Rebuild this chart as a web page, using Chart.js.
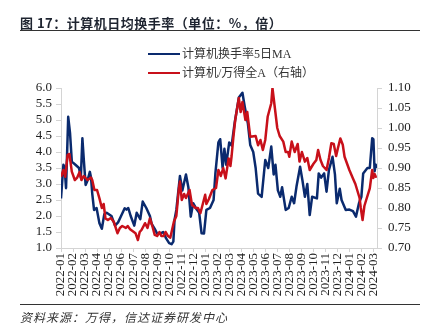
<!DOCTYPE html>
<html lang="zh-CN">

<head>
    <meta charset="UTF-8">
    <title>计算机日均换手率</title>
    <script src="https://cdn.jsdelivr.net/npm/chart.js"></script>
</head>
<style>
    body {
        margin: 0;
        background: #ffffff;
    }

    #wrap {
        position: relative;
        width: 434px;
        height: 329px;
        overflow: hidden;
        font-family: "Liberation Serif", "Noto Sans CJK SC", serif;
        color: #222;
    }

    #myChart {
        position: absolute;
        left: 0;
        top: 0;
    }

    .title {
        position: absolute;
        left: 20px;
        top: 13px;
        font-family: "Noto Sans CJK SC", sans-serif;
        font-weight: bold;
        font-size: 13px;
        letter-spacing: 0.5px;
        white-space: nowrap;
        color: #1e2430;
    }

    .rule {
        position: absolute;
        left: 20px;
        width: 400px;
        height: 1px;
        background: #333;
    }

    .legend-item {
        position: absolute;
        left: 148px;
        font-size: 12px;
        line-height: 14px;
        white-space: nowrap;
        color: #333;
    }

    .legend-item i {
        display: inline-block;
        width: 32px;
        height: 2px;
        vertical-align: middle;
        margin-right: 2px;
        margin-top: -2px;
    }

    .source {
        position: absolute;
        left: 20px;
        top: 308px;
        font-family: "Noto Sans CJK SC", sans-serif;
        font-style: italic;
        font-size: 12px;
        letter-spacing: 1px;
        color: #333;
    }
</style>

<body>
    <div id="wrap">
        <canvas id="myChart" width="434" height="329"></canvas>
        <div class="title">图 17：计算机日均换手率（单位：%，倍）</div>
        <div class="rule" style="top: 30px;"></div>
        <div class="legend-item" style="top: 47px;"><i style="background:#0a2a6e"></i>计算机换手率5日MA</div>
        <div class="legend-item" style="top: 66px;"><i style="background:#c8101a"></i>计算机/万得全A（右轴）</div>
        <div class="rule" style="top: 304px;"></div>
        <div class="source">资料来源：万得，信达证券研发中心</div>
    </div>
    <script>
        // 月份标签 (x 轴)
        const monthLabels = [
            '2022-01', '2022-02', '2022-03', '2022-04', '2022-05', '2022-06', '2022-07', '2022-08', '2022-09',
            '2022-10', '2022-11', '2022-12', '2023-01', '2023-02', '2023-03', '2023-04', '2023-05', '2023-06',
            '2023-07', '2023-08', '2023-09', '2023-10', '2023-11', '2023-12', '2024-01', '2024-02', '2024-03'
        ];

        // 计算机换手率5日MA (%)，x = 自 2022-01 起的月份位置
        const turnoverX = [
            0, 0.2, 0.3, 0.42, 0.6, 0.75, 0.9, 1.2, 1.5, 1.65, 1.78, 1.9, 2.05, 2.2, 2.4, 2.5, 2.6, 2.75, 2.96,
            3.2, 3.4, 3.6, 3.8, 4.2, 4.5, 4.75, 5.0, 5.3, 5.45, 5.6, 5.8, 6.1, 6.3, 6.45, 6.6, 6.8, 7.1, 7.4,
            7.55, 7.8, 8.0, 8.25, 8.5, 8.75, 9.0, 9.2, 9.35, 9.45, 9.6, 9.9, 10.1, 10.4, 10.6, 10.8, 11.0,
            11.3, 11.5, 11.7, 11.9, 12.1, 12.4, 12.7, 12.85, 13.1, 13.25, 13.45, 13.6, 13.75, 14.0, 14.2,
            14.45, 14.8, 15.1, 15.3, 15.55, 15.75, 16.0, 16.2, 16.4, 16.7, 17.0, 17.25, 17.5, 17.7, 17.85,
            18.05, 18.25, 18.4, 18.7, 18.95, 19.2, 19.4, 19.6, 19.9, 20.1, 20.3, 20.5, 20.7, 20.9, 21.3,
            21.45, 21.65, 21.9, 22.1, 22.3, 22.6, 22.8, 22.95, 23.2, 23.35, 23.7, 24.0, 24.3, 24.55, 24.8,
            25.0, 25.15, 25.5, 25.7, 25.9, 26.0, 26.1, 26.2, 26.25
        ];
        const turnoverY = [
            2.55, 3.6, 3.5, 2.87, 5.1, 4.6, 3.7, 3.6, 3.5, 3.2, 4.43, 3.75, 2.97, 3.1, 3.38, 3.2, 2.7, 2.19, 2.25,
            1.77, 1.6, 2.05, 2.1, 2.0, 1.7, 1.8, 2.0, 2.24, 2.2, 2.25, 2.0, 1.7, 2.1, 2.0, 1.9, 2.45, 2.25, 2.0,
            1.75, 1.6, 1.45, 1.45, 1.5, 1.3, 1.15, 1.12, 1.2, 1.88, 2.19, 3.25, 2.8, 3.3, 2.9, 1.98, 2.4,
            2.2, 2.1, 1.46, 1.45, 2.19, 2.25, 2.5, 3.33, 4.3, 4.4, 3.5, 4.1, 3.6, 4.3, 4.2,
            4.9, 5.7, 5.85, 5.4, 4.9, 4.22, 4.0, 3.5, 2.7, 2.6, 3.75, 3.5, 4.17, 3.3, 3.6,
            2.8, 2.6, 2.9, 2.19, 2.25, 2.6, 2.4, 2.92, 3.54, 3.1, 2.6, 3.0, 2.03, 2.6, 2.55,
            3.33, 3.2, 3.33, 2.76, 3.44, 3.85, 3.3, 2.4, 2.85, 2.5, 2.19, 2.2, 2.15, 1.98, 2.4,
            2.6, 3.33, 3.5, 3.5, 4.43, 4.4, 3.4, 3.6, 3.5
        ];

        // 计算机/万得全A (倍，右轴)
        const ratioX = [
            0, 0.2, 0.35, 0.55, 0.7, 0.9, 1.15, 1.35, 1.55, 1.7, 1.9, 2.2, 2.5, 2.6, 2.78, 3.0, 3.2, 3.4, 3.55,
            3.7, 3.9, 4.15, 4.4, 4.7, 4.9, 5.1, 5.4, 5.55, 5.75, 6.2, 6.4, 6.55, 6.7, 7.0, 7.2, 7.4, 7.6, 7.8,
            8.0, 8.2, 8.35, 8.55, 8.7, 8.9, 9.1, 9.4, 9.6, 9.8, 9.9, 10.05, 10.25, 10.4, 10.7, 10.9, 11.2,
            11.4, 11.6, 11.8, 12.0, 12.1, 12.3, 12.6, 12.9, 13.1, 13.3, 13.5, 13.7, 13.95, 14.1, 14.2, 14.35,
            14.5, 14.8, 14.95, 15.1, 15.35, 15.5, 15.75, 16.2, 16.4, 16.6, 16.8, 17.0, 17.2, 17.5, 17.6,
            17.8, 18.0, 18.2, 18.5, 18.7, 18.9, 19.0, 19.2, 19.45, 19.7, 19.85, 20.05, 20.3, 20.5, 20.7,
            21.0, 21.25, 21.4, 21.6, 21.8, 22.1, 22.3, 22.5, 22.7, 22.9, 23.05, 23.25, 23.45, 23.6, 24.0,
            24.3, 24.5, 24.7, 24.85, 24.95, 25.1, 25.25, 25.4, 25.7, 25.9, 26.0, 26.1, 26.2, 26.25
        ];
        const ratioY = [
            0.878, 0.895, 0.878, 0.933, 0.935, 0.891, 0.87, 0.876, 0.89, 0.87, 0.88, 0.87, 0.876, 0.87, 0.845,
            0.845, 0.824, 0.80, 0.81, 0.774, 0.77, 0.775, 0.765, 0.737, 0.75, 0.755, 0.75, 0.755, 0.747, 0.737,
            0.72, 0.74, 0.745, 0.762, 0.75, 0.774, 0.755, 0.733, 0.73, 0.74, 0.73, 0.73, 0.74, 0.73, 0.726,
            0.766, 0.78, 0.845, 0.866, 0.82, 0.835, 0.825, 0.845, 0.808, 0.8, 0.8, 0.787, 0.81, 0.833, 0.81,
            0.822, 0.845, 0.85, 0.895, 0.88, 0.9, 0.874, 0.924, 0.905, 0.93, 0.978, 1.02, 1.075, 1.04, 1.065,
            1.02, 1.04, 0.978, 0.98, 0.957, 0.97, 0.945, 0.97, 1.028, 1.062, 1.10, 1.05, 1.0, 0.98, 0.966,
            0.94, 0.94, 0.928, 0.966, 0.94, 0.96, 0.916, 0.94, 0.916, 0.925, 0.895, 0.91, 0.92, 0.945, 0.92,
            0.905, 0.895, 0.925, 0.962, 0.96, 0.93, 0.95, 0.974, 0.958, 0.928, 0.895, 0.874, 0.86, 0.84, 0.825,
            0.80, 0.77, 0.805, 0.82, 0.849, 0.895, 0.875, 0.885, 0.878, 0.88
        ];

        const tickFont = { family: '"Liberation Serif", "Times New Roman", serif', size: 13 };
        const axisColor = '#d4d4d4';

        const ctx = document.getElementById('myChart').getContext('2d');
        const myChart = new Chart(ctx, {
            type: 'line',
            data: {
                datasets: [
                    {
                        label: '计算机换手率5日MA',
                        data: turnoverX.map((x, i) => ({ x: x, y: turnoverY[i] })),
                        borderColor: '#0a2a6e',
                        borderWidth: 2.5,
                        yAxisID: 'y',
                        order: 1
                    },
                    {
                        label: '计算机/万得全A（右轴）',
                        data: ratioX.map((x, i) => ({ x: x, y: ratioY[i] })),
                        borderColor: '#c8101a',
                        borderWidth: 2.5,
                        yAxisID: 'y1',
                        order: 0
                    }
                ]
            },
            options: {
                responsive: false,
                animation: false,
                devicePixelRatio: 1,
                layout: { padding: { top: 88, bottom: 26, left: 0, right: 0 } },
                elements: {
                    point: { radius: 0 },
                    line: { tension: 0, borderJoinStyle: 'round' }
                },
                plugins: {
                    legend: { display: false },
                    tooltip: { enabled: false }
                },
                scales: {
                    x: {
                        type: 'linear',
                        min: 0,
                        max: 26.3,
                        afterFit: s => { s.height = 55; },
                        grid: { drawOnChartArea: false, color: axisColor, tickLength: 4 },
                        border: { color: axisColor },
                        ticks: {
                            stepSize: 1,
                            autoSkip: false,
                            includeBounds: false,
                            maxRotation: 90,
                            minRotation: 90,
                            padding: 1,
                            font: tickFont,
                            color: '#222',
                            callback: v => monthLabels[v] || ''
                        }
                    },
                    y: {
                        position: 'left',
                        min: 1,
                        max: 6,
                        afterFit: s => { s.width = 61; },
                        grid: { drawOnChartArea: false, color: axisColor, tickLength: 5 },
                        border: { color: axisColor },
                        ticks: {
                            stepSize: 0.5,
                            autoSkip: false,
                            padding: 4,
                            font: tickFont,
                            color: '#222',
                            callback: v => v.toFixed(1)
                        }
                    },
                    y1: {
                        position: 'right',
                        min: 0.7,
                        max: 1.1,
                        afterFit: s => { s.width = 57; },
                        grid: { drawOnChartArea: false, color: axisColor, tickLength: 5 },
                        border: { color: axisColor },
                        ticks: {
                            stepSize: 0.05,
                            autoSkip: false,
                            padding: 6,
                            font: tickFont,
                            color: '#222',
                            callback: v => v.toFixed(2)
                        }
                    }
                }
            }
        });
    </script>
</body>

</html>
